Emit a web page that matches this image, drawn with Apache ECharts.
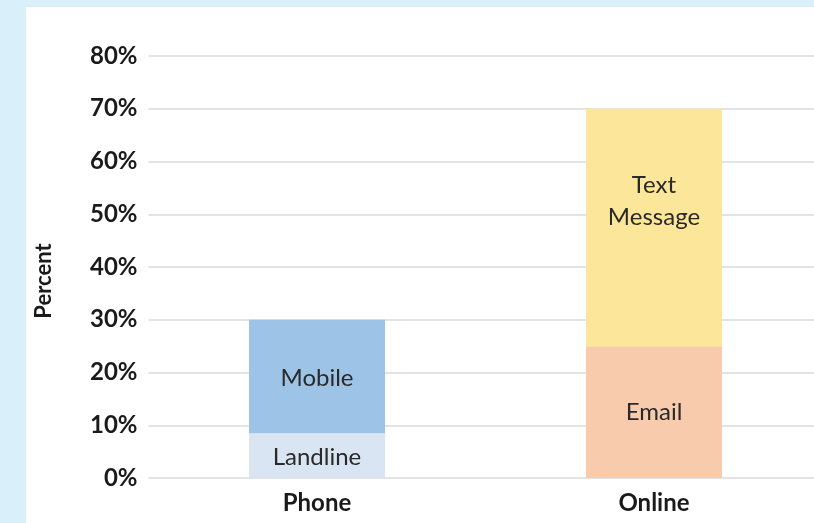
<!DOCTYPE html>
<html>
<head>
<meta charset="utf-8">
<script src="https://cdn.jsdelivr.net/npm/echarts@6/dist/echarts.min.js"></script>
<style>
  html, body { margin: 0; padding: 0; background: #d9eff9; }
  #panel { position: absolute; left: 26px; top: 7px; right: 0; bottom: 0; background: #fff; }
  #chart { position: absolute; left: 0; top: 0; width: 814px; height: 523px; }
</style>
</head>
<body>
<div id="panel"></div>
<div id="chart"></div>
<script>
// categories and values (percent)
var categories = ['Phone', 'Online'];
var landline = [8.5, '-'];
var mobile = [21.5, '-'];
var email = ['-', 25];
var textMessage = ['-', 45];
var yTicks = [0, 10, 20, 30, 40, 50, 60, 70, 80];

var font = 'Lato, "Open Sans", sans-serif';

// one stacked series per segment
function seg(name, data, color, labelText, offset) {
    return {
        name: name,
        type: 'bar',
        stack: 'total',
        data: data,
        barWidth: 136,
        itemStyle: { color: color },
        label: {
            show: true,
            position: 'inside',
            formatter: labelText,
            color: '#2a2a2a',
            fontFamily: font,
            fontSize: 24,
            lineHeight: 32,
            offset: offset || [0, 0]
        }
    };
}

var myChart = echarts.init(document.getElementById('chart'));
var option = {
    backgroundColor: 'transparent',
    animation: false,
    grid: { left: 148.5, width: 674, top: 56, bottom: 45, outerBoundsMode: 'none' },
    xAxis: {
        type: 'category',
        data: categories,
        axisLine: { show: false },
        axisTick: { show: false },
        axisLabel: { color: '#1a1a1a', fontFamily: font, fontSize: 24, fontWeight: 'bold', margin: 13 }
    },
    yAxis: {
        type: 'value',
        min: yTicks[0],
        max: yTicks[yTicks.length - 1],
        interval: 10,
        name: 'Percent',
        nameLocation: 'middle',
        nameGap: 94,
        nameTextStyle: { color: '#1a1a1a', fontFamily: font, fontSize: 22, fontWeight: 'bold', padding: [0, 28, 0, 0] },
        axisLabel: { color: '#1a1a1a', fontFamily: font, fontSize: 24, fontWeight: 'bold', margin: 11, formatter: '{value}%' },
        splitLine: { lineStyle: { color: '#e3e3e3', width: 2 } }
    },
    series: [
        seg('Landline', landline, '#dae5f3', 'Landline', [0, 2]),
        seg('Mobile', mobile, '#9dc3e6', 'Mobile', [0, 2]),
        seg('Email', email, '#f8cbad', 'Email'),
        seg('Text Message', textMessage, '#fce699', 'Text\nMessage', [0, -26])
    ]
};
myChart.setOption(option);
</script>
</body>
</html>
